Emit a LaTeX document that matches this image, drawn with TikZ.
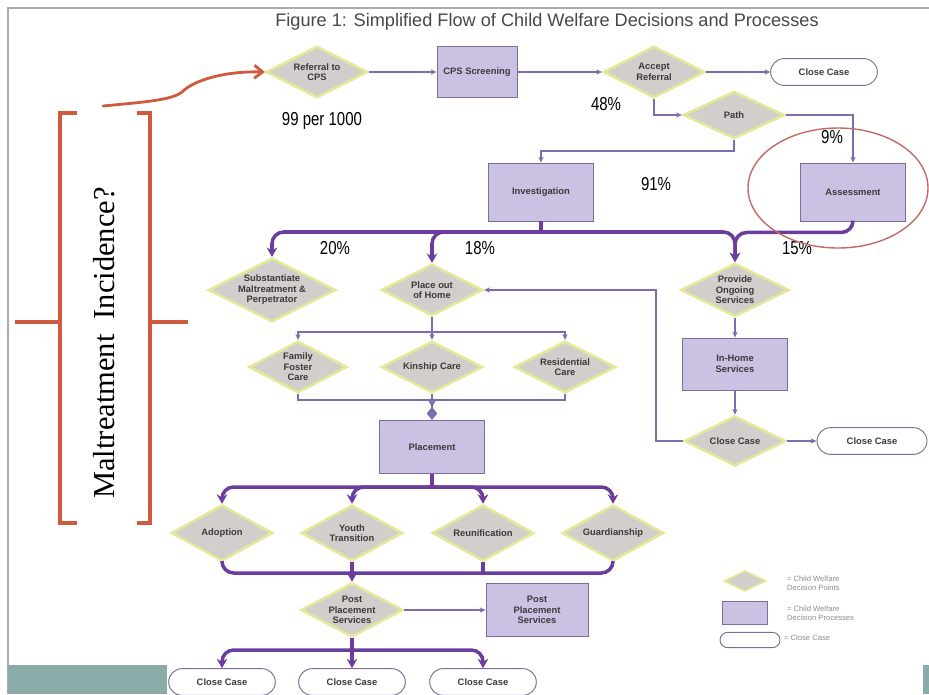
\documentclass[tikz,border=0pt]{standalone}
\usepackage{fontspec}
\setmainfont{Liberation Sans}
\newfontfamily\pctfont[FakeStretch=0.8]{Liberation Sans}
\newfontfamily\incidfont{Liberation Serif}
\usetikzlibrary{shapes.geometric,arrows.meta}

\definecolor{glow}{HTML}{E4E99A}
\definecolor{dfill}{HTML}{D2CECB}
\definecolor{pfill}{HTML}{CBC1E2}
\definecolor{pline}{HTML}{7D6C9C}
\definecolor{thinc}{HTML}{7E6BB0}
\definecolor{thickc}{HTML}{6A3D9E}
\definecolor{bracketc}{HTML}{CF5A3E}
\definecolor{ringc}{HTML}{C46A66}
\definecolor{framec}{HTML}{A8ACAC}
\definecolor{tealc}{HTML}{8BABA9}
\definecolor{labc}{HTML}{3A3A3A}

\begin{document}
\begin{tikzpicture}[
  x=0.03cm, y=-0.03cm,
  dpoint/.style={diamond, aspect=2, draw=glow, line width=2.2pt, fill=dfill,
    inner sep=0pt, minimum width=3.05cm, minimum height=1.55cm, align=center,
    text=labc, font=\fontsize{8}{9}\selectfont\bfseries},
  dproc/.style={rectangle, draw=pline, line width=0.8pt, fill=pfill,
    minimum width=3.15cm, minimum height=1.6cm, align=center,
    text=labc, font=\fontsize{8}{9}\selectfont\bfseries},
  cclose/.style={rectangle, rounded corners=0.4cm, draw=pline, line width=0.8pt,
    fill=white, minimum width=3.2cm, minimum height=0.8cm,
    text=labc, font=\fontsize{8}{9}\selectfont\bfseries},
  thn/.style={draw=thinc, line width=1pt, -{Stealth[length=5pt,width=4.5pt]}},
  thk/.style={draw=thickc, line width=3pt, rounded corners=0.35cm,
    -{Stealth[length=8pt,width=9pt]}},
  pct/.style={font=\pctfont\fontsize{16}{16}\selectfont},
  legtext/.style={anchor=west, align=left, text=black!45,
    font=\fontsize{6.5}{7.5}\selectfont},
]

\useasboundingbox (0,0) rectangle (929,694);

\draw [framec, line width=1.5pt] (8,694) -- (8,8) -- (929,8);
\fill [tealc] (8,665) rectangle (167,694);
\fill [tealc] (923,665) rectangle (929,694);

\node [font=\fontsize{15.5}{16}\selectfont, text=black!72] (title) at (547,22)
  {Figure 1: Simplified Flow of Child Welfare Decisions and Processes};

\node [dpoint] (ref) at (317,72) {Referral to\\CPS};
\node [dproc, minimum width=2.4cm, minimum height=1.53cm] (cps) at (477,72) {CPS Screening};
\node [dpoint] (accept) at (654,72) {Accept\\Referral};
\node [cclose] (close1) at (824,72) {Close Case};
\node [dpoint, minimum height=1.42cm] (path) at (734,115) {Path};
\node [dproc, minimum height=1.74cm] (inv) at (541,192) {Investigation};
\node [dproc, minimum height=1.74cm] (assess) at (853,192) {Assessment};

\node [dpoint, minimum width=3.4cm] (subst) at (272,290) {Substantiate\\Maltreatment \&\\Perpetrator};
\node [dpoint] (place) at (432,290) {Place out\\of Home};
\node [dpoint, minimum width=3.25cm, minimum height=1.6cm] (provide) at (735,290) {Provide\\Ongoing\\Services};

\node [dpoint, minimum width=2.95cm] (family) at (298,367) {Family\\Foster\\Care};
\node [dpoint] (kin) at (432,367) {Kinship Care};
\node [dpoint] (resid) at (565,367) {Residential\\Care};
\node [dproc, minimum height=1.56cm] (inhome) at (735,364) {In-Home\\Services};
\node [dproc, minimum height=1.6cm] (plac) at (432,447) {Placement};
\node [dpoint, minimum height=1.5cm] (ccd) at (735,441) {Close Case};
\node [cclose, minimum width=3.3cm] (close2) at (872,441) {Close Case};

\node [dpoint, minimum height=1.68cm] (adopt) at (222,533) {Adoption};
\node [dpoint, minimum height=1.68cm] (youth) at (352,533) {Youth\\Transition};
\node [dpoint, minimum height=1.68cm] (reun) at (483,533) {Reunification};
\node [dpoint, minimum height=1.68cm] (guard) at (613,533) {Guardianship};

\node [dpoint, minimum height=1.62cm] (post) at (352,610) {Post\\Placement\\Services};
\node [dproc, minimum width=3.06cm] (postp) at (537,610) {Post\\Placement\\Services};

\node [cclose] (cc3) at (222,682) {Close Case};
\node [cclose] (cc4) at (352,682) {Close Case};
\node [cclose] (cc5) at (483,682) {Close Case};

\node [pct] (p99) at (322,121) {99 per 1000};
\node [pct] (p48) at (606,104) {48\%};
\node [pct] (p9) at (832,137) {9\%};
\node [pct] (p91) at (656,184) {91\%};
\node [pct] (p20) at (335,248) {20\%};
\node [pct] (p18) at (480,248) {18\%};
\node [pct] (p15) at (797,248) {15\%};

\draw [thn] (ref) -- (cps);
\draw [thn] (cps) -- (accept);
\draw [thn] (accept) -- (close1);
\draw [thn] (accept.south) |- (path.west);
\draw [thn] (path.east) -| (assess.north);
\draw [thn] (path.south) -- ++(0,11) -| (inv.north);

\coordinate (j1) at (541,232);
\draw [thk,-] (inv.south) -- (j1);
\draw [thk] (j1) -| (subst.north);
\draw [thk] (j1) -| (place.north);
\draw [thk] (j1) -| (provide.north);
\draw [thk] (assess.south) -- ++(0,11) -| (provide.north);

\coordinate (j2) at (432,332);
\draw [thn,-] (place.south) -- (j2);
\draw [thn] (j2) -| (family.north);
\draw [thn] (j2) -- (kin.north);
\draw [thn] (j2) -| (resid.north);

\coordinate (j3) at (432,400);
\draw [thn,-] (family.south) |- (j3);
\draw [thn,-] (resid.south) |- (j3);
\draw [thn, line width=1.4pt, -{Stealth[length=6pt,width=7pt]Diamond[length=11pt,width=9pt]}]
  (kin.south) -- (plac.north);

\draw [thn] (provide) -- (inhome);
\draw [thn] (inhome) -- (ccd);
\draw [thn] (ccd) -- (close2);
\coordinate (loopc) at (656,441);
\draw [thn] (ccd.west) -- (loopc) |- (place.east);

\coordinate (j4) at (432,487);
\draw [thk,-] (plac.south) -- (j4);
\draw [thk] (j4) -| (adopt.north);
\draw [thk] (j4) -| (youth.north);
\draw [thk] (j4) -| (reun.north);
\draw [thk] (j4) -| (guard.north);

\coordinate (j5) at (352,573);
\draw [thk,-] (adopt.south) |- (j5);
\draw [thk,-] (guard.south) |- (j5);
\draw [thk,-] (reun.south) -- (reun.south |- j5);
\draw [thk] (youth.south) -- (post.north);
\draw [thn] (post) -- (postp);

\coordinate (j6) at (352,650);
\draw [thk,-] (post.south) -- (j6);
\draw [thk] (j6) -| (cc3.north);
\draw [thk] (j6) -- (cc4.north);
\draw [thk] (j6) -| (cc5.north);

\draw [ringc, line width=1.2pt] (838,188) ellipse [x radius=2.7cm, y radius=1.8cm];

\draw [bracketc, line width=3pt] (77,113) -- (60,113) -- (60,523) -- (77,523);
\draw [bracketc, line width=3pt] (60,322) -- (15,322);
\draw [bracketc, line width=3pt] (137,113) -- (150,113) -- (150,523) -- (137,523);
\draw [bracketc, line width=3pt] (150,322) -- (188,322);
\node [rotate=90, font=\incidfont\fontsize{26}{26}\selectfont] (incid) at (104,343)
  {Maltreatment\ \ Incidence?};
\coordinate (curvestart) at (103,106);
\draw [bracketc, line width=2.4pt, line cap=round,
  -{Straight Barb[length=7pt,width=11pt,line width=2.4pt]}]
  (curvestart) .. controls (145,102) and (172,100) .. (182,92)
  .. controls (194,80) and (225,71) .. (ref.west);

\node [dpoint, line width=1.5pt, minimum width=1.25cm, minimum height=0.62cm] (legd) at (745,581) {};
\node [legtext] (legdt) at (783,583) {= Child Welfare\\Decision Points};
\node [dproc, minimum width=1.35cm, minimum height=0.7cm] (legp) at (745,613) {};
\node [legtext] (legpt) at (783,613) {= Child Welfare\\Decision Processes};
\node [cclose, rounded corners=0.23cm, minimum width=1.8cm, minimum height=0.46cm] (legc) at (750,640) {};
\node [legtext] (legct) at (780,638) {= Close Case};

\end{tikzpicture}
\end{document}
